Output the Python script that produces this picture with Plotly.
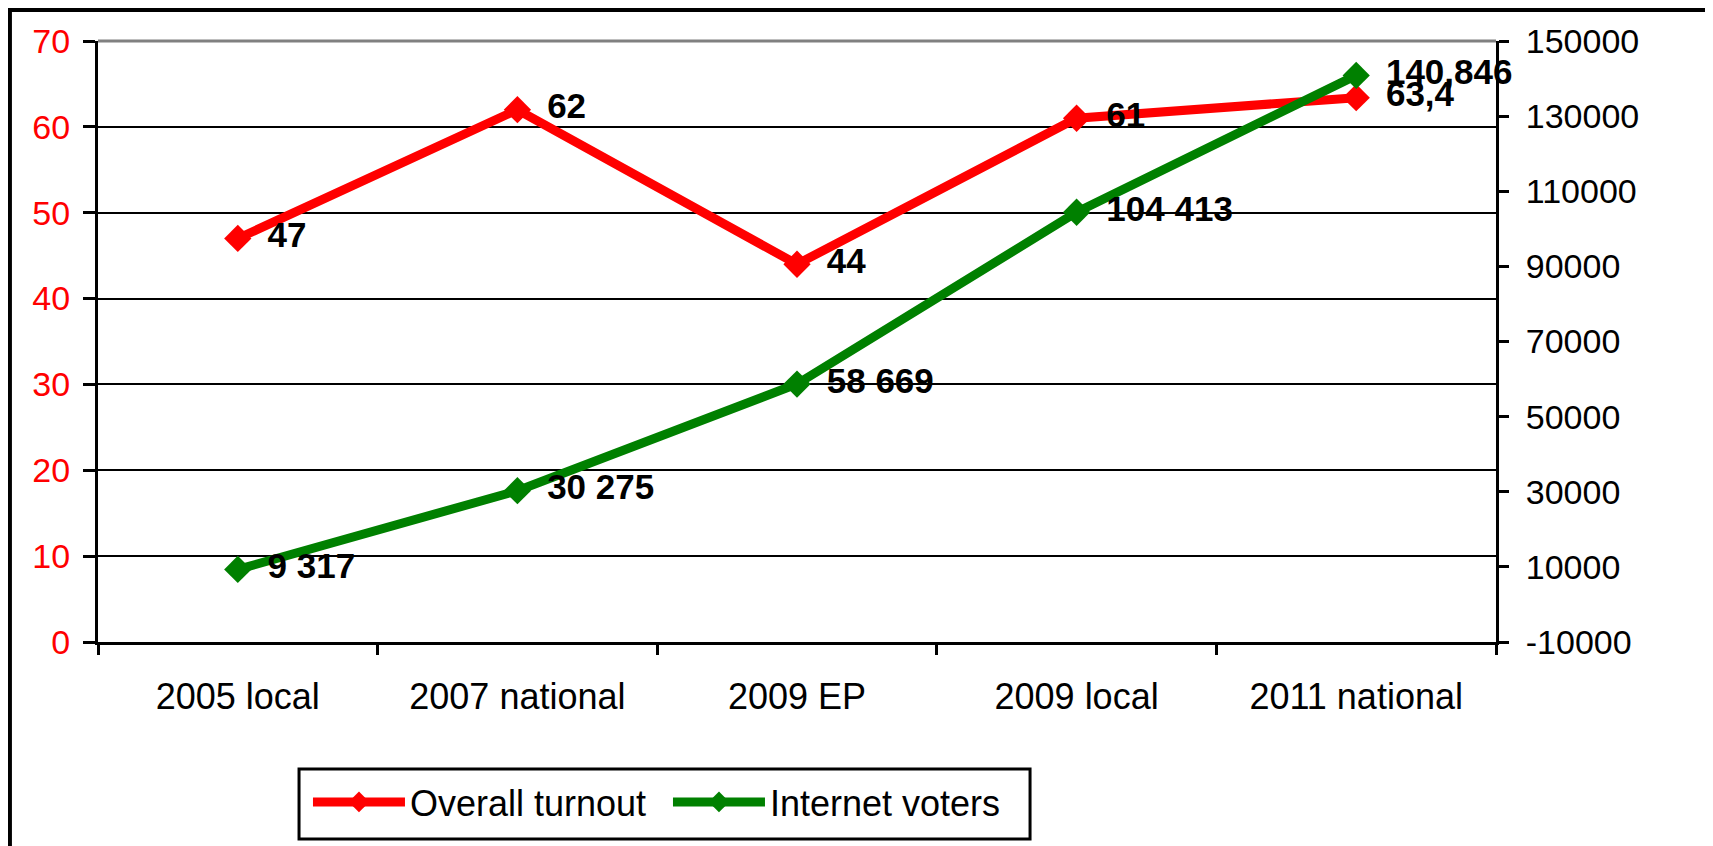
import plotly.graph_objects as go

categories = ["2005 local", "2007 national", "2009 EP", "2009 local", "2011 national"]
turnout = [47, 62, 44, 61, 63.4]
turnout_labels = ["47", "62", "44", "61", "63,4"]
internet_voters = [9317, 30275, 58669, 104413, 140846]
internet_labels = ["9 317", "30 275", "58 669", "104 413", "140,846"]
left_ticks = [0, 10, 20, 30, 40, 50, 60, 70]
right_ticks = [-10000, 10000, 30000, 50000, 70000, 90000, 110000, 130000, 150000]
right_tick_text = ["-10000", "10000", "30000", "50000", "70000", "90000", "110000", "130000", "150000"]

FONT = "Liberation Sans, Arial, sans-serif"
RED = "#FF0000"
GREEN = "#008000"
LABEL_FONT = dict(family=FONT, size=35, color="black", weight="bold")

fig = go.Figure()
# Overall turnout line
fig.add_trace(go.Scatter(
    x=categories, y=turnout, name="Overall turnout",
    mode="lines+markers",
    line=dict(color=RED, width=9),
    marker=dict(symbol="diamond", size=21, color=RED),
    cliponaxis=False, yaxis="y",
))
# Overall turnout labels (transparent marker just sets the label offset)
fig.add_trace(go.Scatter(
    x=categories, y=turnout, mode="markers+text", text=turnout_labels,
    textposition="middle right", textfont=LABEL_FONT,
    marker=dict(size=46, color="rgba(0,0,0,0)"),
    showlegend=False, hoverinfo="skip", cliponaxis=False, yaxis="y",
))
# Internet voters line
fig.add_trace(go.Scatter(
    x=categories, y=internet_voters, name="Internet voters",
    mode="lines+markers",
    line=dict(color=GREEN, width=9),
    marker=dict(symbol="diamond", size=21, color=GREEN),
    cliponaxis=False, yaxis="y2",
))
fig.add_trace(go.Scatter(
    x=categories, y=internet_voters, mode="markers+text", text=internet_labels,
    textposition="middle right", textfont=LABEL_FONT,
    marker=dict(size=46, color="rgba(0,0,0,0)"),
    showlegend=False, hoverinfo="skip", cliponaxis=False, yaxis="y2",
))

fig.update_layout(
    width=1713, height=846,
    margin=dict(l=90, r=225, t=33, b=212),
    paper_bgcolor="white", plot_bgcolor="white",
    font=dict(family=FONT, color="black"),
    showlegend=True,
    legend=dict(
        orientation="h", x=0.1502, xanchor="left", y=-0.2662, yanchor="middle",
        borderwidth=0, bgcolor="rgba(0,0,0,0)",
        font=dict(family=FONT, size=36, color="black"),
        itemwidth=92, entrywidth=253, entrywidthmode="pixels",
    ),
    xaxis=dict(
        type="category", categoryorder="array", categoryarray=categories,
        range=[-0.5, 4.5], showgrid=False, tickson="boundaries",
        showline=True, linecolor="black", linewidth=3,
        ticks="outside", ticklen=10, tickwidth=3, tickcolor="black",
        tickfont=dict(family=FONT, size=36, color="black"),
        ticklabelstandoff=21,
    ),
    yaxis=dict(
        range=[0, 70], tickvals=left_ticks, showgrid=True, gridcolor="black", gridwidth=2,
        zeroline=False, showline=True, linecolor="black", linewidth=3,
        ticks="outside", ticklen=12, tickwidth=3, tickcolor="black",
        tickfont=dict(family=FONT, size=34, color=RED),
        ticklabelstandoff=6,
    ),
    yaxis2=dict(
        range=[-10000, 150000], tickvals=right_ticks, ticktext=right_tick_text,
        overlaying="y", side="right", showgrid=False, zeroline=False,
        showline=True, linecolor="black", linewidth=3,
        ticks="outside", ticklen=10, tickwidth=3, tickcolor="black",
        tickfont=dict(family=FONT, size=34, color="black"),
        ticklabelstandoff=10,
    ),
    yaxis3=dict(
        range=[-10000, 150000], tickvals=right_ticks,
        overlaying="y", side="right", anchor="x", showgrid=False, zeroline=False,
        showline=False, showticklabels=False,
        ticks="inside", ticklen=10, tickwidth=3, tickcolor="black",
    ),
    shapes=[
        dict(type="line", xref="paper", yref="paper", x0=0, x1=1, y0=1, y1=1,
             line=dict(color="#808080", width=3)),
        # legend box
        dict(type="rect", xref="paper", yref="paper", x0=0.1438, x1=0.6667,
             y0=-0.3278, y1=-0.2113, line=dict(color="black", width=3)),
        # outer chart border
        dict(type="rect", xref="paper", yref="paper", x0=-0.0630, x1=1.1524,
             y0=-0.36, y1=1.0516, line=dict(color="black", width=4)),
    ],
)

fig.write_html("out.html")
